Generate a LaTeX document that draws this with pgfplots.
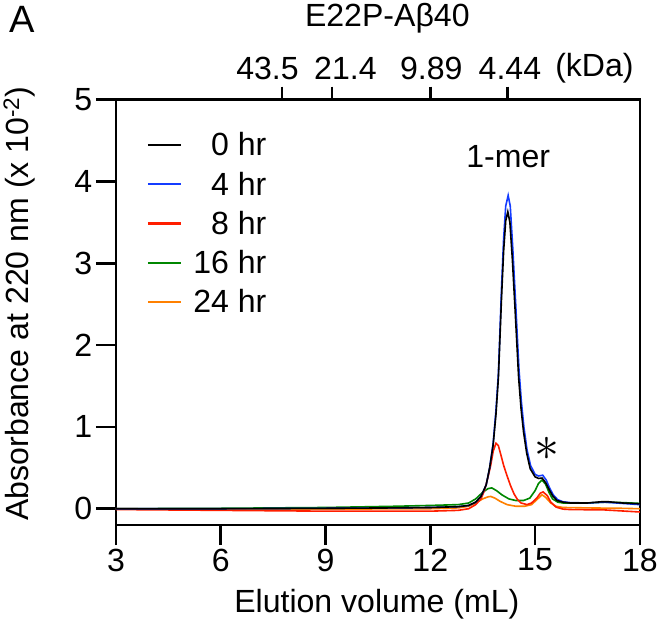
\documentclass[border=0pt]{standalone}
\usepackage{fontspec}
\setmainfont{Liberation Sans}
\usepackage{pgfplots}
\pgfplotsset{compat=1.18}

\definecolor{cblue}{RGB}{20,60,255}
\definecolor{cred}{RGB}{255,30,0}
\definecolor{cgreen}{RGB}{0,135,0}
\definecolor{corange}{RGB}{255,128,0}

\begin{document}
\begin{tikzpicture}
\begin{axis}[
  scale only axis, width=521bp, height=423bp,
  xmin=3, xmax=18, ymin=-0.2, ymax=5,
  xtick={3,6,9,12,15,18}, ytick={0,1,2,3,4,5},
  xtick pos=bottom, ytick pos=left, tick align=outside,
  major tick length=20bp,
  axis line style={line width=2.5bp},
  tick style={line width=2.5bp, black},
  font=\fontsize{32}{38}\selectfont,
  /pgf/number format/assume math mode=true,
  xlabel={Elution volume (mL)},
  ylabel={Absorbance at 220 nm (x 10\textsuperscript{-2})},
  xlabel style={at={(axis description cs:0.498,-0.187)}, anchor=center},
  ylabel style={at={(axis description cs:-0.185,0.521)}, anchor=center},
  reverse legend,
  legend cell align=right,
  legend style={draw=none, fill=none, at={(axis description cs:0.058,0.928)}, anchor=north west,
    row sep=10.5bp, inner sep=0pt,
    /tikz/every odd column/.append style={column sep=9bp}},
  legend image code/.code={\draw[#1, line width=2.5bp] (0bp,0bp) -- (33bp,0bp);},
  every axis plot/.append style={line width=1.6bp},
]
\addplot[corange] coordinates {(3,0.0)(6,-0.005)(9,-0.005)(12,0.0)(12.8,0.01)(13.1,0.03)(13.3,0.07)(13.5,0.12)(13.65,0.145)(13.73,0.15)(13.85,0.13)(14.0,0.09)(14.2,0.05)(14.45,0.03)(14.7,0.03)(14.9,0.05)(15.05,0.11)(15.2,0.17)(15.3,0.14)(15.45,0.07)(15.6,0.03)(15.8,0.015)(16.5,0.01)(17.5,0.005)(18,0.0)};
\addlegendentry{24 hr}
\addplot[cgreen] coordinates {(3,0.0)(6,0.005)(9,0.015)(11,0.03)(12,0.04)(12.8,0.05)(13.1,0.07)(13.3,0.12)(13.5,0.2)(13.65,0.245)(13.76,0.255)(13.9,0.22)(14.05,0.17)(14.25,0.12)(14.45,0.10)(14.67,0.10)(14.85,0.13)(15.0,0.22)(15.1,0.31)(15.2,0.35)(15.3,0.3)(15.4,0.2)(15.5,0.12)(15.65,0.08)(15.8,0.07)(16.5,0.07)(17,0.08)(17.5,0.075)(18,0.065)};
\addlegendentry{16 hr}
\addplot[cred] coordinates {(3,-0.01)(6,-0.02)(9,-0.03)(12,-0.03)(12.8,-0.02)(13.1,0.0)(13.3,0.05)(13.45,0.12)(13.55,0.22)(13.65,0.38)(13.73,0.53)(13.8,0.7)(13.88,0.80)(13.95,0.77)(14.02,0.66)(14.1,0.53)(14.2,0.4)(14.3,0.28)(14.4,0.18)(14.5,0.11)(14.6,0.07)(14.77,0.05)(14.9,0.07)(15.05,0.13)(15.15,0.19)(15.23,0.205)(15.35,0.16)(15.45,0.08)(15.6,0.02)(15.8,-0.005)(16,-0.01)(17,-0.015)(18,-0.04)};
\addlegendentry{8 hr}
\addplot[cblue] coordinates {(3,0.0)(6,0.0)(9,0.005)(11,0.01)(12,0.015)(12.8,0.025)(13.1,0.04)(13.3,0.08)(13.45,0.15)(13.6,0.29)(13.7,0.5)(13.8,0.8)(13.88,1.2)(13.95,1.65)(14.04,2.7)(14.1,3.3)(14.16,3.7)(14.23,3.83)(14.29,3.7)(14.36,3.2)(14.44,2.55)(14.54,1.7)(14.61,1.3)(14.68,1.0)(14.77,0.72)(14.87,0.53)(15.0,0.42)(15.1,0.40)(15.22,0.41)(15.32,0.35)(15.41,0.26)(15.52,0.17)(15.65,0.11)(15.8,0.085)(16,0.075)(16.5,0.07)(17,0.08)(17.5,0.065)(18,0.05)};
\addlegendentry{4 hr}
\addplot[black] coordinates {(3,0.0)(6,0.0)(9,0.005)(11,0.01)(12,0.015)(12.8,0.025)(13.1,0.04)(13.3,0.08)(13.45,0.15)(13.6,0.29)(13.7,0.5)(13.8,0.78)(13.88,1.15)(13.95,1.6)(14.04,2.58)(14.1,3.15)(14.16,3.52)(14.22,3.63)(14.28,3.5)(14.35,3.05)(14.43,2.42)(14.53,1.6)(14.6,1.22)(14.67,0.94)(14.76,0.68)(14.86,0.49)(15.0,0.39)(15.1,0.37)(15.2,0.375)(15.3,0.32)(15.39,0.245)(15.5,0.16)(15.63,0.10)(15.8,0.08)(16.0,0.07)(16.5,0.07)(16.9,0.085)(17.1,0.085)(17.5,0.07)(18,0.06)};
\addlegendentry{0 hr}
\node at (axis cs:14.23,4.3) {1-mer};
\node at (axis cs:15.35,0.73) {\scalebox{2}{$\ast$}};
\end{axis}
\begin{axis}[
  scale only axis, width=521bp, height=423bp,
  xmin=3, xmax=18, ymin=-0.2, ymax=5,
  axis x line*=top, axis y line=none,
  xtick={7.75,9.18,12.0,14.21},
  xticklabels={},
  tick align=outside, major tick length=13bp,
  tick style={line width=2.5bp, black},
  axis line style={draw=none},
  font=\fontsize{32}{38}\selectfont,
  clip=false,
]
\node at (axis cs:7.34,5) [yshift=31bp] {43.5};
\node at (axis cs:9.57,5) [yshift=31bp] {21.4};
\node at (axis cs:12.03,5) [yshift=31bp] {9.89};
\node at (axis cs:14.28,5) [yshift=31bp] {4.44};
\node at (axis cs:16.7,5) [yshift=31bp] {(kDa)};
\node at (rel axis cs:0.518,1) [yshift=81bp] {E22P-Aβ40};
\node[font=\fontsize{38}{42}\selectfont] at (rel axis cs:0,1) [xshift=-93bp, yshift=80bp] {A};
\end{axis}
\end{tikzpicture}
\end{document}
